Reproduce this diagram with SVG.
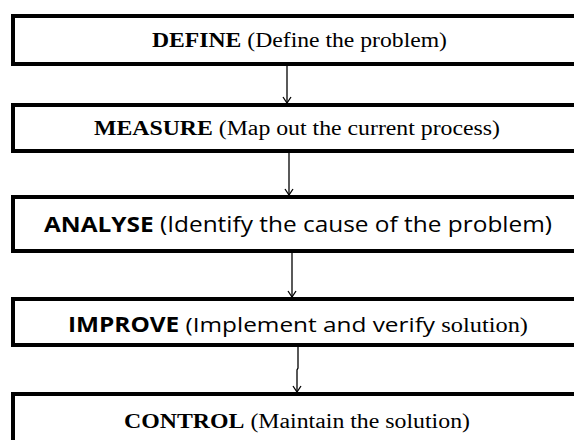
<svg xmlns="http://www.w3.org/2000/svg" width="574" height="440" viewBox="0 0 574 440">
  <style>
    .box { fill: #ffffff; stroke: #000000; stroke-width: 4; }
    .link { fill: none; stroke: #000000; stroke-width: 1.3; }
    .serif { font-family: "Liberation Serif", "Times New Roman", serif; fill: #000000; }
    .sans { font-family: "Open Sans", "Noto Sans", "Liberation Sans", sans-serif; fill: #000000; }
    .b { font-weight: bold; }
  </style>
  <defs>
    <!-- open chevron arrowhead, tip along +x so orient="auto" points it down the line -->
    <marker id="head" markerUnits="userSpaceOnUse" markerWidth="10" markerHeight="10" refX="9" refY="5" orient="auto" viewBox="0 0 10 10">
      <path d="M3,1 L9,5 L3,9" fill="none" stroke="#000000" stroke-width="1.3"/>
    </marker>
  </defs>
  <rect width="574" height="440" fill="#ffffff"/>

  <g id="define">
    <rect class="box" x="13" y="16" width="580" height="48"/>
    <text class="serif" x="152" y="47" font-size="20" textLength="295" lengthAdjust="spacingAndGlyphs"><tspan class="b">DEFINE</tspan> (Define the problem)</text>
  </g>

  <g id="measure">
    <rect class="box" x="13" y="105" width="580" height="46"/>
    <text class="serif" x="94" y="135" font-size="20" textLength="406" lengthAdjust="spacingAndGlyphs"><tspan class="b">MEASURE</tspan> (Map out the current process)</text>
  </g>

  <g id="analyse">
    <rect class="box" x="13" y="197" width="580" height="54"/>
    <text class="sans" x="44" y="232" font-size="21" textLength="508" lengthAdjust="spacingAndGlyphs"><tspan class="b">ANALYSE</tspan> (Identify the cause of the problem)</text>
  </g>

  <g id="improve">
    <rect class="box" x="13" y="299" width="580" height="46"/>
    <text x="68" y="332" font-size="20.5" textLength="460" lengthAdjust="spacingAndGlyphs"><tspan class="sans b">IMPROVE</tspan><tspan class="sans"> (Implement and verify </tspan><tspan class="serif">solution)</tspan></text>
  </g>

  <g id="control">
    <rect class="box" x="13" y="394" width="580" height="60"/>
    <text class="serif" x="124" y="428" font-size="20" textLength="346" lengthAdjust="spacingAndGlyphs"><tspan class="b">CONTROL</tspan> (Maintain the solution)</text>
  </g>

  <g id="connectors">
    <path class="link" d="M287,66 L287,103" marker-end="url(#head)"/>
    <path class="link" d="M289,153 L289,195" marker-end="url(#head)"/>
    <path class="link" d="M292,253 L292,297" marker-end="url(#head)"/>
    <path class="link" d="M298,347 L298,368 L297,370 L297,392" marker-end="url(#head)"/>
  </g>
</svg>
